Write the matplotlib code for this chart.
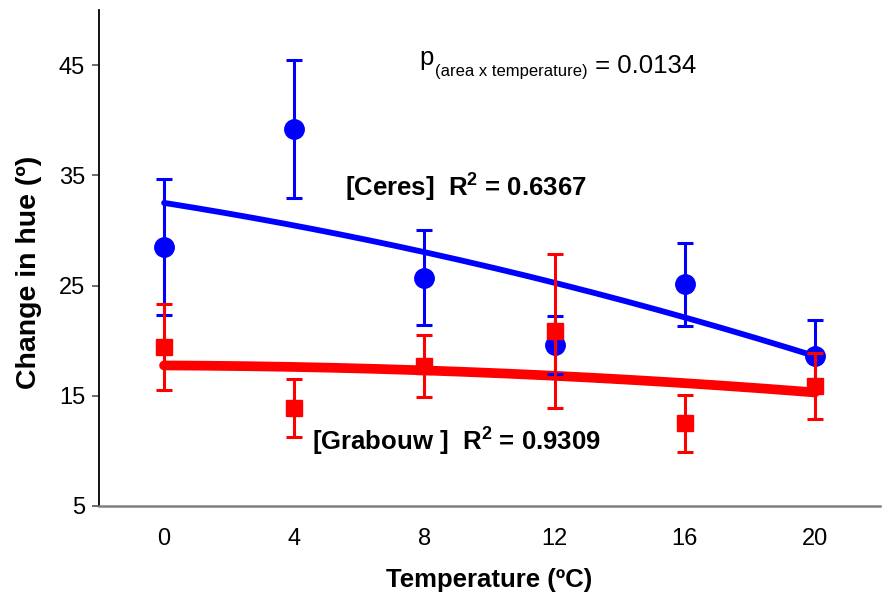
import numpy as np
import matplotlib
matplotlib.use('Agg')
import matplotlib.pyplot as plt

plt.rcParams['font.family'] = ['Liberation Sans', 'DejaVu Sans']
plt.rcParams['mathtext.fontset'] = 'custom'
plt.rcParams['mathtext.rm'] = 'Liberation Sans'
plt.rcParams['mathtext.bf'] = 'Liberation Sans:bold'

# hue change per storage temperature, mean and error for each area
temps = [0, 4, 8, 12, 16, 20]
ceres_mean = [28.5, 39.2, 25.7, 19.6, 25.1, 18.6]
ceres_err = [6.2, 6.3, 4.3, 2.6, 3.8, 3.3]
grabouw_mean = [19.4, 13.9, 17.7, 20.9, 12.5, 15.9]
grabouw_err = [3.9, 2.6, 2.8, 7.0, 2.6, 3.0]

# quadratic trend coefficients (x^2, x, const)
ceres_fit = [-0.01135, -0.468, 32.5]
grabouw_fit = [-0.00552, -0.0121, 17.75]

fig = plt.figure(figsize=(8.82, 6.08), dpi=100)
ax = fig.add_axes([0.1122, 0.1678, 0.8855, 0.8158])

xx = np.linspace(temps[0], temps[-1], 200)
ax.plot(xx, np.polyval(ceres_fit, xx), color='#0000FF', lw=4.2,
        solid_capstyle='round', zorder=2)
ax.plot(xx, np.polyval(grabouw_fit, xx), color='#FF0000', lw=7,
        solid_capstyle='round', zorder=2)

ax.errorbar(temps, ceres_mean, yerr=ceres_err, fmt='o', color='#0000FF',
            ms=14, elinewidth=2.2, capsize=6, capthick=2.2, zorder=3)
ax.errorbar(temps, grabouw_mean, yerr=grabouw_err, fmt='s', color='#FF0000',
            ms=12, elinewidth=2.2, capsize=6, capthick=2.2, zorder=4)

ax.set_xlim(-2, 22)
ax.set_ylim(5, 50)
ax.set_xticks(temps)
ax.set_yticks([5, 15, 25, 35, 45])

for s in ['top', 'right']:
    ax.spines[s].set_visible(False)
ax.spines['left'].set_linewidth(1.3)
ax.spines['left'].set_color('black')
ax.spines['bottom'].set_linewidth(1.8)
ax.spines['bottom'].set_color('#808080')

ax.tick_params(axis='x', length=0, pad=16, labelsize=17)
ax.tick_params(axis='y', length=5, width=1.3, color='#606060', pad=5,
               labelsize=17, direction='out')

ax.set_xlabel('Temperature (ºC)', fontsize=18.5, fontweight='bold', labelpad=13)
ax.set_ylabel('Change in hue (º)', fontsize=20.5, fontweight='bold')
ax.yaxis.set_label_coords(-0.073, 0.47)

# p-value with a small subscript, pieces chained one after another
t1 = ax.text(7.85, 45.0, 'p', fontsize=18.5, va='baseline', ha='left')
t2 = ax.annotate('(area x temperature)', xy=(1, 0), xycoords=t1,
                 xytext=(1, -4), textcoords='offset points',
                 fontsize=12, va='baseline', ha='left')
ax.annotate(' = 0.0134', xy=(1, 0), xycoords=t2,
            xytext=(0, 4), textcoords='offset points',
            fontsize=18.5, va='baseline', ha='left')

ax.text(5.55, 33.9, r'[Ceres]  R$\mathbf{^2}$ = 0.6367',
        fontsize=18.5, fontweight='bold', va='center', ha='left')
ax.text(4.55, 10.8, r'[Grabouw ]  R$\mathbf{^2}$ = 0.9309',
        fontsize=18.5, fontweight='bold', va='center', ha='left')

fig.savefig('out.png', dpi=100)
